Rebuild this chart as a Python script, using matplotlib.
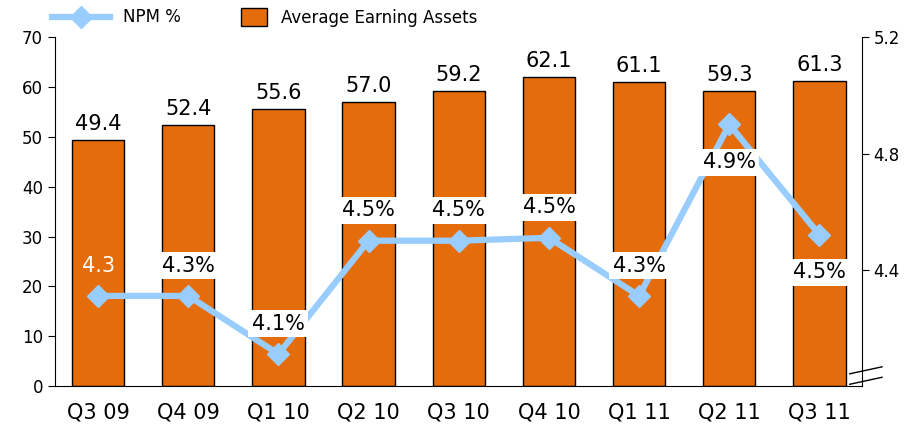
import matplotlib.pyplot as plt
import numpy as np

quarters = ["Q3 09", "Q4 09", "Q1 10", "Q2 10", "Q3 10", "Q4 10", "Q1 11", "Q2 11", "Q3 11"]
assets = [49.4, 52.4, 55.6, 57.0, 59.2, 62.1, 61.1, 59.3, 61.3]
npm = [4.31, 4.31, 4.11, 4.50, 4.50, 4.51, 4.31, 4.90, 4.52]
npm_labels = ["4.3", "4.3%", "4.1%", "4.5%", "4.5%", "4.5%", "4.3%", "4.9%", "4.5%"]
npm_above = [True, True, True, True, True, True, True, False, False]

BAR = "#E46C0A"
LINE = "#99CCFF"

fig = plt.figure(figsize=(9.13, 4.37), dpi=100)
ax = fig.add_axes([0.060, 0.1167, 0.884, 0.798])
x = np.arange(len(quarters))

ax.bar(x, assets, width=0.58, color=BAR, edgecolor="black", linewidth=1.0, zorder=2,
       label="Average Earning Assets")
for xi, v in zip(x, assets):
    ax.text(xi, v + 1.2, f"{v:.1f}", ha="center", va="bottom", fontsize=15)

ax.set_xlim(-0.48, 8.47)
ax.set_ylim(0, 70)
ax.set_yticks(range(0, 71, 10))
ax.set_xticks(x)
ax.set_xticklabels(quarters, fontsize=15)
ax.tick_params(axis="x", length=0, pad=12)
ax.tick_params(axis="y", labelsize=12, direction="out", length=5)
ax.spines["top"].set_visible(False)
ax.spines["right"].set_visible(False)

ax2 = ax.twinx()
ax2.plot(x, npm, color=LINE, lw=4.5, marker="D", ms=11, zorder=3, label="NPM %")
ax2.set_ylim(4.0, 5.2)
ax2.set_yticks([4.4, 4.8, 5.2])
ax2.tick_params(axis="y", labelsize=12, direction="out", length=5)
ax2.spines["top"].set_visible(False)
ax2.spines["left"].set_visible(False)
ax2.spines["bottom"].set_visible(False)

for i, (xi, v, lab, up) in enumerate(zip(x, npm, npm_labels, npm_above)):
    dy = 0.07 if up else -0.095
    if i == 0:
        ax2.text(xi, v + dy, lab, ha="center", va="bottom", fontsize=15, color="white")
    else:
        ax2.text(xi, v + dy, lab, ha="center", va="bottom" if up else "top", fontsize=15,
                 color="black",
                 bbox=dict(facecolor="white", edgecolor="none", pad=2.5))

# axis break marks on right axis
kw = dict(transform=ax2.transAxes, color="black", lw=1, clip_on=False)
ax2.plot([0.985, 1.025], [0.035, 0.055], **kw)
ax2.plot([0.985, 1.025], [0.005, 0.025], **kw)

h1, l1 = ax2.get_legend_handles_labels()
h2, l2 = ax.get_legend_handles_labels()
fig.legend(h1, l1, loc="upper left", bbox_to_anchor=(0.04, 1.015),
           frameon=False, fontsize=12, handlelength=3.5)
fig.legend(h2, l2, loc="upper left", bbox_to_anchor=(0.247, 1.015),
           frameon=False, fontsize=12, handlelength=1.6, handleheight=1.2)

fig.savefig("out.png", dpi=100)
